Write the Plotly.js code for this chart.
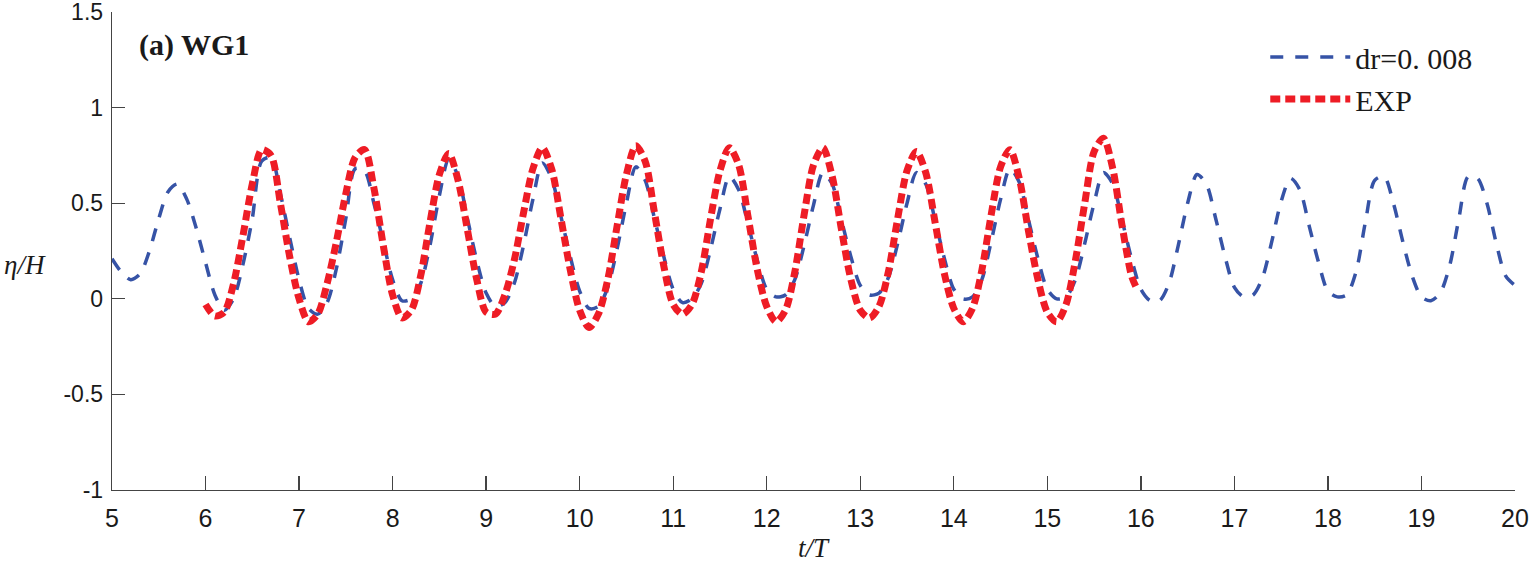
<!DOCTYPE html>
<html>
<head>
<meta charset="utf-8">
<script src="https://cdn.plot.ly/plotly-3.0.1.min.js"></script>
<style>
  html, body { margin: 0; padding: 0; background: #fff; }
  #graph { width: 1530px; height: 567px; }
</style>
</head>
<body>
<div id="graph"></div>
<script>
// dr=0.008 (numerical)
const simT = [
  5.0, 5.1, 5.2, 5.3, 5.4, 5.5, 5.6, 5.7, 5.8, 5.9,
  6.0, 6.1, 6.2, 6.3, 6.4, 6.5, 6.6, 6.7, 6.8, 6.9,
  7.0, 7.1, 7.2, 7.3, 7.4, 7.5, 7.6, 7.7, 7.8, 7.9,
  8.0, 8.1, 8.2, 8.3, 8.4, 8.5, 8.6, 8.7, 8.8, 8.9,
  9.0, 9.1, 9.2, 9.3, 9.4, 9.5, 9.6, 9.7, 9.8, 9.9,
  10.0, 10.1, 10.2, 10.3, 10.4, 10.5, 10.6, 10.7, 10.8, 10.9,
  11.0, 11.1, 11.2, 11.3, 11.4, 11.5, 11.6, 11.7, 11.8, 11.9,
  12.0, 12.1, 12.2, 12.3, 12.4, 12.5, 12.6, 12.7, 12.8, 12.9,
  13.0, 13.1, 13.2, 13.3, 13.4, 13.5, 13.6, 13.7, 13.8, 13.9,
  14.0, 14.1, 14.2, 14.3, 14.4, 14.5, 14.6, 14.7, 14.8, 14.9,
  15.0, 15.1, 15.2, 15.3, 15.4, 15.5, 15.6, 15.7, 15.8, 15.9,
  16.0, 16.1, 16.2, 16.3, 16.4, 16.5, 16.6, 16.7, 16.8, 16.9,
  17.0, 17.1, 17.2, 17.3, 17.4, 17.5, 17.6, 17.7, 17.8, 17.9,
  18.0, 18.1, 18.2, 18.3, 18.4, 18.5, 18.6, 18.7, 18.8, 18.9,
  19.0, 19.1, 19.2, 19.3, 19.4, 19.5, 19.6, 19.7, 19.8, 19.9,
  20.0
];
const simEta = [
  0.21, 0.14, 0.10, 0.13, 0.25, 0.42, 0.56, 0.60, 0.52, 0.37,
  0.19, 0.02, -0.06, 0.00, 0.18, 0.42, 0.72, 0.74, 0.55, 0.32,
  0.10, -0.05, -0.08, -0.02, 0.16, 0.42, 0.68, 0.67, 0.50, 0.30,
  0.10, -0.01, 0.00, 0.08, 0.28, 0.54, 0.73, 0.64, 0.42, 0.20,
  0.03, -0.04, -0.02, 0.08, 0.28, 0.52, 0.71, 0.63, 0.43, 0.22,
  0.04, -0.05, -0.04, 0.06, 0.26, 0.50, 0.69, 0.62, 0.42, 0.22,
  0.05, -0.02, 0.00, 0.08, 0.26, 0.47, 0.64, 0.57, 0.39, 0.20,
  0.05, 0.01, 0.02, 0.10, 0.28, 0.49, 0.66, 0.60, 0.41, 0.22,
  0.07, 0.02, 0.03, 0.11, 0.29, 0.50, 0.66, 0.60, 0.41, 0.21,
  0.05, 0.00, 0.01, 0.10, 0.30, 0.52, 0.68, 0.61, 0.41, 0.21,
  0.05, 0.00, 0.01, 0.10, 0.29, 0.50, 0.66, 0.60, 0.41, 0.21,
  0.05, -0.01, -0.01, 0.08, 0.28, 0.50, 0.65, 0.60, 0.42, 0.22,
  0.06, 0.01, 0.02, 0.11, 0.30, 0.51, 0.63, 0.57, 0.38, 0.19,
  0.04, 0.01, 0.02, 0.14, 0.40, 0.62, 0.64, 0.50, 0.30, 0.12,
  0.01, -0.01, 0.03, 0.17, 0.42, 0.64, 0.63, 0.50, 0.29, 0.12,
  0.07
];

// experiment
const expT = [
  6.0, 6.1, 6.2, 6.3, 6.4, 6.5, 6.6, 6.7, 6.8, 6.9,
  7.0, 7.1, 7.2, 7.3, 7.4, 7.5, 7.6, 7.7, 7.8, 7.9,
  8.0, 8.1, 8.2, 8.3, 8.4, 8.5, 8.6, 8.7, 8.8, 8.9,
  9.0, 9.1, 9.2, 9.3, 9.4, 9.5, 9.6, 9.7, 9.8, 9.9,
  10.0, 10.1, 10.2, 10.3, 10.4, 10.5, 10.6, 10.7, 10.8, 10.9,
  11.0, 11.1, 11.2, 11.3, 11.4, 11.5, 11.6, 11.7, 11.8, 11.9,
  12.0, 12.1, 12.2, 12.3, 12.4, 12.5, 12.6, 12.7, 12.8, 12.9,
  13.0, 13.1, 13.2, 13.3, 13.4, 13.5, 13.6, 13.7, 13.8, 13.9,
  14.0, 14.1, 14.2, 14.3, 14.4, 14.5, 14.6, 14.7, 14.8, 14.9,
  15.0, 15.1, 15.2, 15.3, 15.4, 15.5, 15.6, 15.7, 15.8, 15.9,
  15.95
];
const expEta = [
  -0.03, -0.09, -0.07, 0.08, 0.33, 0.60, 0.78, 0.75, 0.50, 0.22,
  0.00, -0.12, -0.08, 0.08, 0.30, 0.55, 0.74, 0.78, 0.58, 0.28,
  0.02, -0.10, -0.06, 0.12, 0.40, 0.65, 0.76, 0.62, 0.36, 0.10,
  -0.07, -0.08, 0.02, 0.20, 0.45, 0.68, 0.79, 0.68, 0.42, 0.15,
  -0.06, -0.15, -0.08, 0.10, 0.38, 0.65, 0.80, 0.72, 0.45, 0.17,
  -0.03, -0.08, -0.03, 0.14, 0.42, 0.67, 0.79, 0.70, 0.43, 0.15,
  -0.04, -0.12, -0.06, 0.14, 0.44, 0.70, 0.79, 0.64, 0.36, 0.10,
  -0.06, -0.10, -0.04, 0.14, 0.42, 0.67, 0.77, 0.66, 0.40, 0.13,
  -0.05, -0.12, -0.05, 0.15, 0.44, 0.69, 0.78, 0.63, 0.35, 0.10,
  -0.07, -0.12, -0.03, 0.20, 0.50, 0.77, 0.84, 0.68, 0.38, 0.12,
  0.06
];

const xTicks = [5, 6, 7, 8, 9, 10, 11, 12, 13, 14, 15, 16, 17, 18, 19, 20];
const yTicks = [-1, -0.5, 0, 0.5, 1, 1.5];

const serif = 'Liberation Serif, Times New Roman, serif';
const sans = 'Liberation Sans, Arial, sans-serif';

const traces = [
  {
    x: simT, y: simEta, name: 'dr=0. 008',
    type: 'scatter', mode: 'lines',
    line: { color: '#3653a6', width: 3.5, dash: '13px,12px', shape: 'spline', smoothing: 0.8 },
  },
  {
    x: expT, y: expEta, name: 'EXP',
    type: 'scatter', mode: 'lines',
    line: { color: '#ee1c25', width: 7, dash: '10px,5px', shape: 'spline', smoothing: 0.8 },
  },
];

const layout = {
  width: 1530,
  height: 567,
  margin: { l: 112, r: 15, t: 12, b: 77 },
  paper_bgcolor: '#fff',
  plot_bgcolor: '#fff',
  showlegend: true,
  legend: {
    x: 0.822, y: 0.96, xanchor: 'left', yanchor: 'top',
    bgcolor: 'rgba(0,0,0,0)', borderwidth: 0,
    itemwidth: 80,
    tracegroupgap: 0,
    font: { family: serif, size: 30, color: '#1a1a1a' },
  },
  xaxis: {
    range: [5, 20],
    tickvals: xTicks,
    ticks: 'inside', ticklen: 14, tickwidth: 1.3, tickcolor: '#444',
    showline: true, linecolor: '#444', linewidth: 1.3,
    showgrid: false, zeroline: false,
    tickfont: { family: sans, size: 25, color: '#1a1a1a' },
    ticklabeloverflow: 'allow',
    ticklabelstandoff: 6,
  },
  yaxis: {
    range: [-1, 1.5],
    tickvals: yTicks,
    ticktext: yTicks.map(String),
    ticks: 'inside', ticklen: 13, tickwidth: 1.3, tickcolor: '#444',
    showline: true, linecolor: '#444', linewidth: 1.3,
    showgrid: false, zeroline: false,
    tickfont: { family: sans, size: 23, color: '#1a1a1a' },
    ticklabeloverflow: 'allow',
    ticklabelstandoff: 3,
  },
  annotations: [
    {
      text: '<b>(a) WG1</b>', xref: 'paper', yref: 'paper',
      x: 0.018, y: 0.931, xanchor: 'left', yanchor: 'middle', showarrow: false,
      font: { family: serif, size: 30, color: '#1a1a1a' },
    },
    {
      text: '<i>η/H</i>', xref: 'paper', yref: 'paper',
      x: -0.062, y: 0.471, xanchor: 'center', yanchor: 'middle', showarrow: false,
      font: { family: serif, size: 27, color: '#1a1a1a' },
    },
    {
      text: '<i>t/T</i>', xref: 'paper', yref: 'paper',
      x: 0.5, y: -0.121, xanchor: 'center', yanchor: 'middle', showarrow: false,
      font: { family: serif, size: 27, color: '#1a1a1a' },
    },
  ],
};

Plotly.newPlot('graph', traces, layout, { displayModeBar: false, staticPlot: true });
</script>
</body>
</html>
